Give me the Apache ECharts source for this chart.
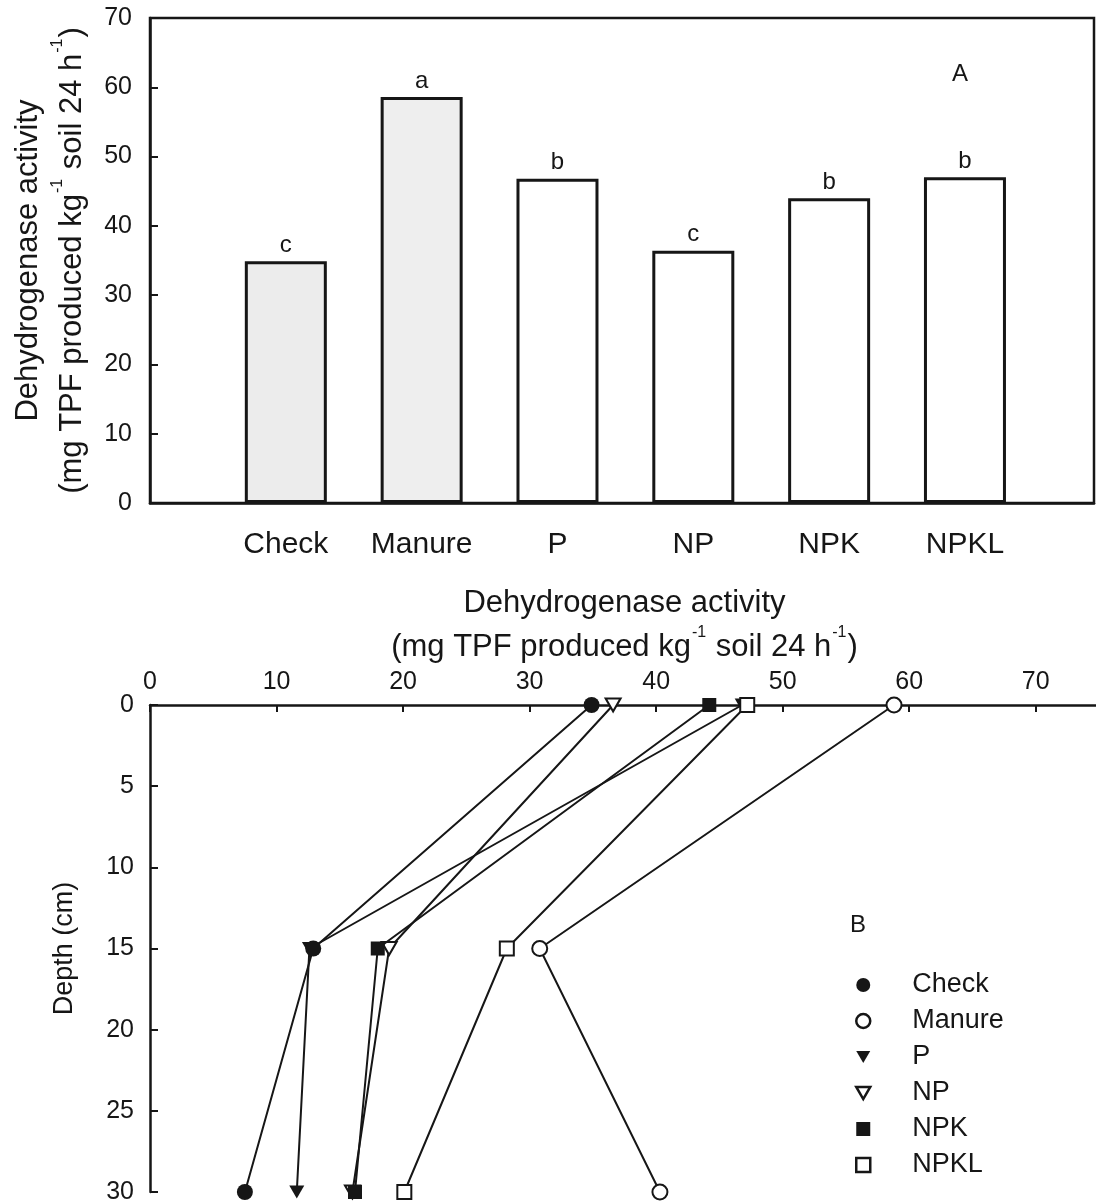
<!DOCTYPE html>
<html><head><meta charset="utf-8">
<script src="https://cdn.jsdelivr.net/npm/echarts@6/dist/echarts.min.js"></script>
<style>html,body{margin:0;padding:0;background:#fff}#c{width:1096px;height:1203px}</style>
</head><body><div id="c"></div>
<script>
// ---------- data ----------
const categories = ['Check', 'Manure', 'P', 'NP', 'NPK', 'NPKL'];
const barValues = [34.9, 58.6, 46.8, 36.4, 44.0, 47.0];
const barLetters = ['c', 'a', 'b', 'c', 'b', 'b'];
const depths = [0, 15, 30];
const checkDepth  = [34.9, 12.9, 7.5];
const manureDepth = [58.8, 30.8, 40.3];
const pDepth      = [46.8, 12.6, 11.6];
const npDepth     = [36.6, 18.9, 16.0];
const npkDepth    = [44.2, 18.0, 16.2];
const npklDepth   = [47.2, 28.2, 20.1];

// ---------- style ----------
const F = "'Liberation Sans', Arial, Helvetica, sans-serif";
const INK = '#161616';
const barFills = ['#ececec', '#eeeeee', '#ffffff', '#ffffff', '#ffffff', '#ffffff'];
const TRI_DOWN = 'path://M0,0L10,0L5,8.66Z';
const axisLine = { show: true, onZero: false, lineStyle: { color: INK, width: 2.5 } };
const rich = {
  a: { fontSize: 31, fontFamily: F, color: INK, lineHeight: 44 },
  s: { fontSize: 16, fontFamily: F, color: INK, verticalAlign: 'top', lineHeight: 44, padding: [0, 1, 14, 1] }
};
const unitName = '{a|Dehydrogenase activity}\n{a|(mg TPF produced kg}{s|-1}{a| soil 24 h}{s|-1}{a|)}';

function lineSeries(name, arr, symbol, size, filled, z) {
  return {
    name, type: 'line', xAxisIndex: 1, yAxisIndex: 1, z,
    data: depths.map((d, i) => [arr[i], d]),
    symbol, symbolSize: size, showSymbol: true,
    lineStyle: { color: INK, width: 2 },
    itemStyle: filled ? { color: INK, borderWidth: 0 } : { color: '#fff', borderColor: INK, borderWidth: 2 },
    emphasis: { disabled: true }, animation: false
  };
}

const option = {
  animation: false,
  backgroundColor: '#fff',
  grid: [
    { left: 150, top: 18, width: 944, height: 485, show: true, borderColor: INK, borderWidth: 2.5,
      backgroundColor: 'transparent', outerBoundsMode: 'none', containLabel: false },
    { left: 150, top: 705, width: 949, height: 487, outerBoundsMode: 'none', containLabel: false }
  ],
  xAxis: [
    { gridIndex: 0, type: 'value', min: 0, max: 6.95, interval: 1,
      axisLine, axisTick: { show: false }, splitLine: { show: false },
      axisLabel: { fontSize: 30, fontFamily: F, color: INK, margin: 27,
        formatter: v => (Number.isInteger(v) && v >= 1 && v <= categories.length) ? categories[v - 1] : '' } },
    { gridIndex: 1, type: 'value', position: 'top', min: 0, max: 75, interval: 10,
      axisLine, axisTick: { show: true, inside: true, length: 7, lineStyle: { color: INK, width: 2 } },
      splitLine: { show: false },
      axisLabel: { fontSize: 25, fontFamily: F, color: INK, margin: 10,
        formatter: v => (v % 10 === 0 && v <= 70) ? String(v) : '' },
      name: unitName, nameLocation: 'middle', nameGap: 36, nameTextStyle: { rich } }
  ],
  yAxis: [
    { gridIndex: 0, type: 'value', min: 0, max: 70, interval: 10,
      axisLine, axisTick: { show: true, inside: true, length: 8, lineStyle: { color: INK, width: 2 } },
      splitLine: { show: false },
      axisLabel: { fontSize: 25, fontFamily: F, color: INK, margin: 18 },
      name: unitName, nameLocation: 'middle', nameGap: 56, nameRotate: 90, nameTextStyle: { rich } },
    { gridIndex: 1, type: 'value', inverse: true, min: 0, max: 30, interval: 5,
      axisLine, axisTick: { show: true, inside: true, length: 8, lineStyle: { color: INK, width: 2 } },
      splitLine: { show: false },
      axisLabel: { fontSize: 25, fontFamily: F, color: INK, margin: 16 },
      name: 'Depth (cm)', nameLocation: 'middle', nameGap: 72, nameRotate: 90,
      nameTextStyle: { fontSize: 27, fontFamily: F, color: INK } }
  ],
  legend: {
    orient: 'vertical', left: 850, top: 966, itemWidth: 14, itemHeight: 14, itemGap: 8,
    selectedMode: false,
    textStyle: { fontSize: 27, fontFamily: F, color: INK, lineHeight: 28, padding: [0, 0, 0, 37] },
    data: [
      { name: 'Check', icon: 'circle', itemStyle: { color: INK, borderWidth: 0 } },
      { name: 'Manure', icon: 'circle', itemStyle: { color: '#fff', borderColor: INK, borderWidth: 2.5 } },
      { name: 'P', icon: TRI_DOWN, itemStyle: { color: INK, borderWidth: 0 } },
      { name: 'NP', icon: TRI_DOWN, itemStyle: { color: '#fff', borderColor: INK, borderWidth: 2.5 } },
      { name: 'NPK', icon: 'rect', itemStyle: { color: INK, borderWidth: 0 } },
      { name: 'NPKL', icon: 'rect', itemStyle: { color: '#fff', borderColor: INK, borderWidth: 2.5 } }
    ]
  },
  graphic: [
    { type: 'text', left: 952, top: 62, style: { text: 'A', fontSize: 24, fontFamily: F, fill: INK } },
    { type: 'text', left: 850, top: 913, style: { text: 'B', fontSize: 24, fontFamily: F, fill: INK } }
  ],
  series: [
    { type: 'bar', xAxisIndex: 0, yAxisIndex: 0, barWidth: 82,
      data: barValues.map((v, i) => ({ value: [i + 1, v], itemStyle: { color: barFills[i] } })),
      itemStyle: { borderColor: INK, borderWidth: 3 },
      label: { show: true, position: 'top', distance: 4, fontSize: 24, fontFamily: F, color: INK,
        formatter: p => barLetters[p.dataIndex] },
      emphasis: { disabled: true } },
    lineSeries('P', pDepth, TRI_DOWN, [15, 13], true, 2),
    lineSeries('NP', npDepth, TRI_DOWN, [15, 13], false, 3),
    lineSeries('Check', checkDepth, 'circle', 16, true, 4),
    lineSeries('Manure', manureDepth, 'circle', 15, false, 4),
    lineSeries('NPK', npkDepth, 'rect', 14, true, 5),
    lineSeries('NPKL', npklDepth, 'rect', 14, false, 6)
  ]
};
const chart = echarts.init(document.getElementById('c'), null, { renderer: 'canvas' });
chart.setOption(option);
</script>
</body></html>
